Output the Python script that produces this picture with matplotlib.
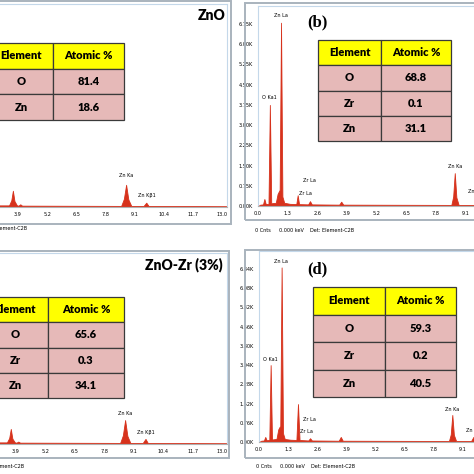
import matplotlib.pyplot as plt
from matplotlib.patches import Rectangle

# ---- data (energy in keV, counts in K) ----
xticks = [0.0, 1.3, 2.6, 3.9, 5.2, 6.5, 7.8, 9.1, 10.4, 11.7, 13.0]

# (a) ZnO - only the part right of ~3 keV is visible
energy_a = [2.9, 3.50, 3.60, 3.67, 3.74, 3.85, 3.92, 4.00, 4.08, 8.50, 8.62, 8.72, 8.82, 8.95, 9.50, 9.62, 9.72, 13.2]
counts_a = [0.06, 0.06, 0.25, 0.60, 0.22, 0.06, 0.05, 0.10, 0.05, 0.04, 0.30, 0.82, 0.28, 0.04, 0.04, 0.16, 0.04, 0.03]

# (b) ZnO-Zr (1%)
energy_b = [0.0, 0.10, 0.22, 0.28, 0.34, 0.46, 0.52, 0.58, 0.78, 0.86, 0.92, 0.95, 1.01, 1.07, 1.15, 1.40, 1.68, 1.74, 1.80, 2.20, 2.28, 2.36, 3.56, 3.65, 3.74, 8.48, 8.56, 8.63, 8.70, 8.80, 9.47, 9.57, 9.68, 13.2]
counts_b = [0.00, 0.05, 0.06, 0.26, 0.07, 0.08, 3.75, 0.10, 0.12, 0.45, 0.55, 0.60, 6.80, 0.35, 0.12, 0.08, 0.07, 0.40, 0.07, 0.06, 0.18, 0.06, 0.05, 0.16, 0.05, 0.04, 0.35, 1.22, 0.32, 0.04, 0.04, 0.22, 0.04, 0.03]

# (c) ZnO-Zr (3%) - only the part right of ~3 keV is visible
energy_c = [2.9, 3.50, 3.60, 3.67, 3.74, 3.85, 3.92, 4.00, 4.08, 8.50, 8.62, 8.72, 8.82, 8.95, 9.50, 9.62, 9.72, 13.2]
counts_c = [0.06, 0.06, 0.22, 0.56, 0.20, 0.06, 0.05, 0.09, 0.05, 0.04, 0.32, 0.89, 0.30, 0.04, 0.04, 0.19, 0.04, 0.03]

# (d) ZnO-Zr (5%)
energy_d = [0.0, 0.10, 0.22, 0.28, 0.34, 0.46, 0.52, 0.58, 0.78, 0.86, 0.92, 0.95, 1.01, 1.07, 1.15, 1.40, 1.67, 1.74, 1.81, 2.20, 2.28, 2.36, 3.56, 3.65, 3.74, 8.48, 8.56, 8.63, 8.70, 8.80, 9.47, 9.57, 9.68, 13.2]
counts_d = [0.00, 0.05, 0.06, 0.20, 0.07, 0.08, 3.04, 0.10, 0.12, 0.50, 0.60, 0.62, 6.90, 0.35, 0.12, 0.09, 0.08, 1.50, 0.08, 0.06, 0.15, 0.06, 0.05, 0.20, 0.05, 0.04, 0.30, 1.07, 0.28, 0.04, 0.04, 0.20, 0.04, 0.03]

yticks_b = [0.0, 0.75, 1.50, 2.25, 3.00, 3.75, 4.50, 5.25, 6.00, 6.75]
yticks_d = [0.0, 0.76, 1.52, 2.28, 3.04, 3.80, 4.56, 5.32, 6.08, 6.84]

# peak labels: (text, energy, counts)
labels_a = [('Zn Ka', 8.72, 1.15), ('Zn Kβ1', 9.65, 0.41)]
labels_b = [('Zn La', 1.00, 7.08), ('O Ka1', 0.52, 4.04), ('Zr La', 2.25, 0.96),
            ('Zr La', 2.10, 0.48), ('Zn Ka', 8.63, 1.48), ('Zn Kβ1', 9.62, 0.52)]
labels_c = [('Zn Ka', 8.72, 1.15), ('Zn Kβ1', 9.65, 0.41)]
labels_d = [('Zn La', 1.00, 7.15), ('O Ka1', 0.52, 3.28), ('Zr La', 2.25, 0.87),
            ('Zr La', 2.10, 0.40), ('Zn Ka', 8.63, 1.30), ('Zn Kβ1', 9.62, 0.47)]

titles = ['ZnO', 'ZnO-Zr (1%)', 'ZnO-Zr (3%)', 'ZnO-Zr (5%)']
letters = [None, '(b)', None, '(d)']

elements_a, atomic_a = ['O', 'Zn'], ['81.4', '18.6']
elements_b, atomic_b = ['O', 'Zr', 'Zn'], ['68.8', '0.1', '31.1']
elements_c, atomic_c = ['O', 'Zr', 'Zn'], ['65.6', '0.3', '34.1']
elements_d, atomic_d = ['O', 'Zr', 'Zn'], ['59.3', '0.2', '40.5']

# ---- layout (pixels, top-left origin) ----
W = H = 474
RED = '#d7321c'
NARROW = ['Liberation Sans Narrow', 'DejaVu Sans']
BOLD = ['Lato', 'DejaVu Sans']
SMALL = dict(fontsize=4.0, family=NARROW, fontstretch='condensed')

fig = plt.figure(figsize=(4.74, 4.74), dpi=100)
fig.patch.set_facecolor('white')


def frac(x0, y0, x1, y1):
    return [x0 / W, 1 - y1 / H, (x1 - x0) / W, (y1 - y0) / H]


def box(x0, y0, x1, y1, **kw):
    fig.add_artist(Rectangle((x0 / W, 1 - y1 / H), (x1 - x0) / W, (y1 - y0) / H,
                             transform=fig.transFigure, fill=False, **kw))


panels = [
    # zero-keV x, px per keV, plot top, baseline, ymax, outer box, table box, col split
    dict(zx=-69.4, kx=22.42, top=4, base=207, ymax=7.5, box=(-82, 1, 231, 224),
         tab=(-10, 43, 124, 120), split=53, energy=energy_a, counts=counts_a,
         yt=None, labels=labels_a, el=elements_a, at=atomic_a, foot=229),
    dict(zx=258, kx=22.8, top=6, base=206, ymax=7.42, box=(245, 3, 558, 220),
         tab=(318, 40, 451, 141), split=381, energy=energy_b, counts=counts_b,
         yt=yticks_b, labels=labels_b, el=elements_b, at=atomic_b, foot=230),
    dict(zx=-72.3, kx=22.64, top=253, base=444, ymax=7.1, box=(-85, 251, 229, 458),
         tab=(-18, 297, 124, 398), split=48, energy=energy_c, counts=counts_c,
         yt=None, labels=labels_c, el=elements_c, at=atomic_c, foot=467),
    dict(zx=259, kx=22.4, top=251, base=442, ymax=7.55, box=(245, 250, 558, 458),
         tab=(313, 287, 456, 397), split=385, energy=energy_d, counts=counts_d,
         yt=yticks_d, labels=labels_d, el=elements_d, at=atomic_d, foot=467),
]

for i, p in enumerate(panels):
    box(*p['box'], ec='#a9b3bd', lw=1.4)

    ax = fig.add_axes(frac(p['zx'], p['top'], p['zx'] + 13.2 * p['kx'], p['base']))
    ax.fill_between(p['energy'], p['counts'], 0, color=RED, lw=0.6)
    ax.set_xlim(0, 13.2)
    ax.set_ylim(0, p['ymax'])
    ax.set_xticks(xticks, [f'{t:.1f}' for t in xticks], **SMALL)
    if p['yt'] is not None:
        ax.set_yticks(p['yt'], [f'{t:.2f}K' for t in p['yt']], **SMALL)
    else:
        ax.set_yticks([])
    ax.tick_params(length=0, pad=3.5)
    for s in ax.spines.values():
        s.set_color('#c4d8ea')
        s.set_linewidth(0.8)
    ax.spines['bottom'].set_color('#b0b0b0')

    for txt, ex, cy in p['labels']:
        ax.text(ex, cy, txt, ha='center', va='center', **SMALL)

    # sample name and panel letter
    bx0, by0, bx1, by1 = p['box']
    fig.text((bx1 - 6) / W, 1 - (by0 + 14) / H, titles[i], ha='right', va='center',
             fontsize=10, fontweight='heavy', family=BOLD)
    if letters[i]:
        fig.text(317 / W, 1 - (by0 + 19) / H, letters[i], ha='center', va='center',
                 fontsize=12, fontweight='bold', family=['Liberation Serif', 'DejaVu Serif'])

    # footer
    fy = 1 - p['foot'] / H
    fig.text((p['zx'] - 3) / W, fy, '0 Cnts', va='center', **SMALL)
    fig.text((p['zx'] + 21) / W, fy, '0.000 keV', va='center', **SMALL)
    fig.text((p['zx'] + 52) / W, fy, 'Det: Element-C2B', va='center', **SMALL)

    # composition table
    tx0, ty0, tx1, ty1 = p['tab']
    tax = fig.add_axes(frac(tx0, ty0, tx1, ty1))
    tax.axis('off')
    rows = [[e, a] for e, a in zip(p['el'], p['at'])]
    tbl = tax.table(cellText=rows, colLabels=['Element', 'Atomic %'], cellLoc='center',
                    bbox=[0, 0, 1, 1],
                    colWidths=[p['split'] - tx0, tx1 - p['split']])
    tbl.auto_set_font_size(False)
    for (r, c), cell in tbl.get_celld().items():
        cell.set_facecolor('#ffff00' if r == 0 else '#e6b9b8')
        cell.set_edgecolor('#3a3a3a')
        cell.set_linewidth(0.9)
        cell.get_text().set_fontsize(8)
        cell.get_text().set_fontweight('heavy')
        cell.get_text().set_family(BOLD)

fig.savefig('out.png', dpi=100)
